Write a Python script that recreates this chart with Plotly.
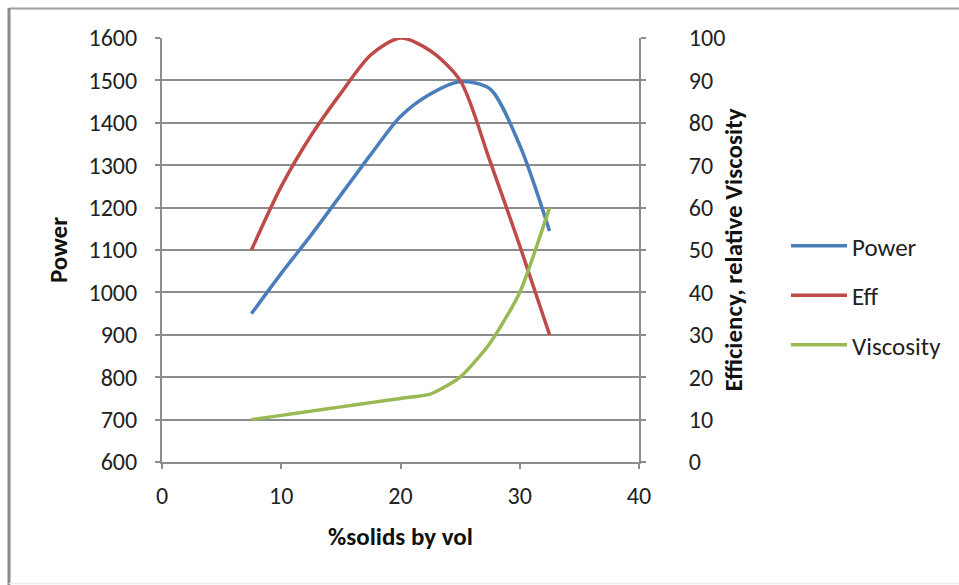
import plotly.graph_objects as go

solids = [7.5, 10, 12.5, 15, 17.5, 20, 22.5, 25, 27.5, 30, 32.5]
power = [950, 1045, 1135, 1230, 1325, 1415, 1468, 1497, 1480, 1347, 1145]
eff = [50, 65, 77, 87, 96, 100, 97, 90, 71, 51, 30]
viscosity = [10, 11, 12, 13, 14, 15, 16, 20, 28, 40, 60]

FONT = "Carlito, Calibri, Lato, sans-serif"
GRID = "#8c8c8c"

W, H = 959, 585
L, R, T, B = 162, 320, 38, 123
PW, PH = W - L - R, H - T - B


def px(x):
    return (x - L) / PW


def py(y):
    return 1 - (y - T) / PH


fig = go.Figure()
fig.add_trace(go.Scatter(x=solids, y=power, name="Power", mode="lines",
                         line=dict(color="#4A7EBB", width=3.5, shape="spline", smoothing=0.8),
                         legendgroup="a"))
fig.add_trace(go.Scatter(x=solids, y=eff, name="Eff", mode="lines", yaxis="y2",
                         line=dict(color="#BE4B48", width=3.5, shape="spline", smoothing=0.8),
                         legendgroup="b"))
fig.add_trace(go.Scatter(x=solids, y=viscosity, name="Viscosity", mode="lines", yaxis="y2",
                         line=dict(color="#98B954", width=3.5, shape="spline", smoothing=0.6),
                         legendgroup="c"))

tickfont = dict(family=FONT, size=24, color="#222")
titlefont = dict(family=FONT, size=25, color="#111", weight="bold")

fig.update_layout(
    width=W, height=H,
    margin=dict(l=L, r=R, t=T, b=B),
    paper_bgcolor="white", plot_bgcolor="white",
    font=dict(family=FONT, color="#222"),
    xaxis=dict(range=[0, 40], dtick=10, showgrid=False, zeroline=False,
               showline=True, linecolor=GRID, linewidth=2,
               ticks="outside", ticklen=5, tickcolor=GRID, tickwidth=1.5,
               tickfont=tickfont, ticklabelstandoff=6,
               title=dict(text="%solids by vol", font=titlefont, standoff=19)),
    yaxis=dict(range=[600, 1600], dtick=100, showgrid=True, gridcolor=GRID, gridwidth=1.8,
               zeroline=False, showline=True, linecolor=GRID, linewidth=2,
               ticks="outside", ticklen=5, tickcolor=GRID, tickwidth=1.5,
               tickfont=tickfont, ticklabelstandoff=13,
               title=dict(text="Power", font=titlefont, standoff=14)),
    yaxis2=dict(range=[0, 100], dtick=10, overlaying="y", side="right",
                showgrid=False, zeroline=False, showline=True, linecolor=GRID, linewidth=2,
                ticks="outside", ticklen=5, tickcolor=GRID, tickwidth=1.5,
                tickfont=tickfont, ticklabelstandoff=38,
                title=dict(text="Efficiency, relative Viscosity", font=titlefont, standoff=0)),
    legend=dict(x=px(786), y=py(223), xanchor="left", yanchor="top",
                font=dict(family=FONT, size=25, color="#222"),
                tracegroupgap=14, itemwidth=56, bgcolor="rgba(0,0,0,0)"),
    shapes=[
        dict(type="line", xref="paper", yref="paper", x0=px(9), x1=px(959), y0=py(8.5), y1=py(8.5),
             line=dict(color="#a0a0a0", width=2)),
        dict(type="line", xref="paper", yref="paper", x0=px(9), x1=px(9), y0=py(8), y1=py(585),
             line=dict(color="#8a8a8a", width=3)),
        dict(type="line", xref="paper", yref="paper", x0=px(9), x1=px(959), y0=py(583.5), y1=py(583.5),
             line=dict(color="#ececec", width=1.5)),
    ],
)

fig.write_html("out.html")
